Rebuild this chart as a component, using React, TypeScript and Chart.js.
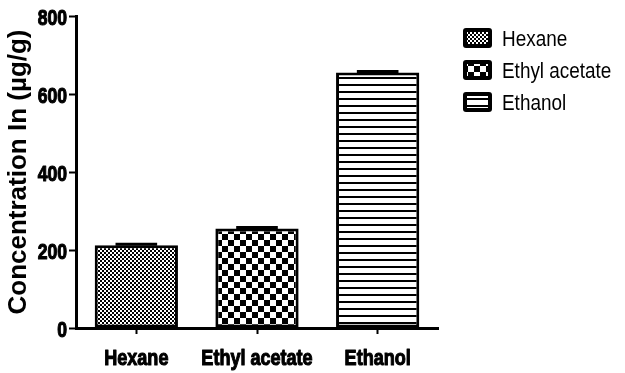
import React, { useEffect, useRef } from "react";
import { Chart, registerables } from "chart.js";

Chart.register(...registerables);

const categories = ["Hexane", "Ethyl acetate", "Ethanol"];
const concentrationValues = [212, 255, 655];
const errorValues = [3, 3, 3];
const yTicks = [0, 200, 400, 600, 800];

const SANS = "'Liberation Sans', Arial, sans-serif";

function makePattern(kind: string): CanvasPattern | string {
  const c = document.createElement("canvas");
  let ctx: CanvasRenderingContext2D | null;
  if (kind === "fine") {
    c.width = 4; c.height = 4;
    ctx = c.getContext("2d")!;
    ctx.fillStyle = "#fff"; ctx.fillRect(0, 0, 4, 4);
    ctx.fillStyle = "#000";
    ctx.fillRect(0, 0, 2, 2); ctx.fillRect(2, 2, 2, 2);
  } else if (kind === "checker") {
    c.width = 12; c.height = 12;
    ctx = c.getContext("2d")!;
    ctx.fillStyle = "#fff"; ctx.fillRect(0, 0, 12, 12);
    ctx.fillStyle = "#000";
    ctx.fillRect(0, 0, 6, 6); ctx.fillRect(6, 6, 6, 6);
  } else {
    c.width = 7; c.height = 7;
    ctx = c.getContext("2d")!;
    ctx.fillStyle = "#fff"; ctx.fillRect(0, 0, 7, 7);
    ctx.fillStyle = "#000";
    ctx.fillRect(0, 0, 7, 2);
  }
  const main = document.createElement("canvas").getContext("2d")!;
  return main.createPattern(c, "repeat") || "#888";
}

// draw text horizontally condensed (the reference uses a narrow face)
function narrowText(
  ctx: CanvasRenderingContext2D,
  text: string,
  x: number,
  y: number,
  sx: number,
  align: "left" | "center" | "right",
  heavy: number
) {
  ctx.save();
  ctx.translate(x, y);
  ctx.scale(sx, 1);
  ctx.textAlign = align;
  ctx.textBaseline = "alphabetic";
  ctx.fillText(text, 0, 0);
  if (heavy > 0) {
    ctx.lineWidth = heavy;
    ctx.strokeStyle = "#000";
    ctx.lineJoin = "round";
    ctx.strokeText(text, 0, 0);
  }
  ctx.restore();
}

export default function App() {
  const ref = useRef<HTMLCanvasElement>(null);
  useEffect(() => {
    if (!ref.current) return;
    const patterns = [makePattern("fine"), makePattern("checker"), makePattern("lines")];

    const errorBarPlugin = {
      id: "errorBars",
      afterDatasetsDraw(chart: any) {
        const ctx = chart.ctx;
        const meta = chart.getDatasetMeta(0);
        const y = chart.scales.y;
        ctx.save();
        ctx.strokeStyle = "#000";
        ctx.lineWidth = 3;
        meta.data.forEach((bar: any, i: number) => {
          const top = y.getPixelForValue(concentrationValues[i] + errorValues[i]);
          const base = y.getPixelForValue(concentrationValues[i]);
          const half = bar.width / 4;
          ctx.beginPath();
          ctx.moveTo(bar.x, base);
          ctx.lineTo(bar.x, top);
          ctx.moveTo(bar.x - half, top);
          ctx.lineTo(bar.x + half, top);
          ctx.stroke();
        });
        ctx.restore();
      },
    };

    const tickLabelPlugin = {
      id: "narrowTickLabels",
      afterDraw(chart: any) {
        const ctx = chart.ctx as CanvasRenderingContext2D;
        const xs = chart.scales.x;
        const ys = chart.scales.y;
        ctx.save();
        ctx.fillStyle = "#000";
        ctx.font = `bold 22px ${SANS}`;
        xs.ticks.forEach((t: any, i: number) => {
          narrowText(ctx, categories[t.value] ?? categories[i], xs.getPixelForTick(i), 365, 0.82, "center", 1.1);
        });
        ys.ticks.forEach((t: any, i: number) => {
          narrowText(ctx, String(t.value), 67, ys.getPixelForTick(i) + 9, 0.8, "right", 1.1);
        });
        ctx.restore();
      },
    };

    const legendPlugin = {
      id: "customLegend",
      afterDraw(chart: any) {
        const ctx = chart.ctx;
        ctx.save();
        categories.forEach((label, i) => {
          const cy = 38 + i * 32;
          const bx = 463, bw = 29, bh = 20;
          ctx.fillStyle = "#000";
          ctx.beginPath();
          (ctx as any).roundRect(bx, cy - bh / 2, bw, bh, 3);
          ctx.fill();
          ctx.fillStyle = patterns[i];
          ctx.fillRect(bx + 4, cy - bh / 2 + 4, bw - 8, bh - 8);
          ctx.fillStyle = "#000";
          ctx.font = `22px ${SANS}`;
          narrowText(ctx, label, 502, cy + 8, 0.86, "left", 0);
        });
        ctx.restore();
      },
    };

    const chart = new Chart(ref.current, {
      type: "bar",
      data: {
        labels: categories,
        datasets: [
          {
            label: "Concentration",
            data: concentrationValues,
            backgroundColor: patterns as any,
            borderColor: "#000",
            borderWidth: 3,
            borderSkipped: false,
            categoryPercentage: 1,
            barPercentage: 0.69,
          },
        ],
      },
      options: {
        responsive: false,
        animation: false,
        layout: { padding: { top: 16, right: 187, left: 0, bottom: 0 } },
        plugins: { legend: { display: false }, tooltip: { enabled: false } },
        scales: {
          x: {
            offset: true,
            grid: {
              offset: false,
              drawOnChartArea: false,
              drawTicks: true,
              tickLength: 6,
              tickWidth: 2,
              tickColor: "#000",
            },
            border: { display: true, color: "#000", width: 3 },
            ticks: { display: false, autoSkip: false },
            afterFit: (s: any) => { s.height = 45; },
          },
          y: {
            min: 0,
            max: 800,
            afterBuildTicks: (s: any) => { s.ticks = yTicks.map((v) => ({ value: v })); },
            grid: {
              drawOnChartArea: false,
              drawTicks: true,
              tickLength: 7,
              tickWidth: 2,
              tickColor: "#000",
            },
            border: { display: true, color: "#000", width: 3 },
            ticks: { display: false },
            title: {
              display: true,
              text: "Concentration In (µg/g)",
              color: "#000",
              font: { family: SANS, size: 26, weight: "bold" },
              padding: { top: 3, bottom: 0 },
            },
            afterFit: (s: any) => { s.width = 76; },
          },
        },
      },
      plugins: [errorBarPlugin, tickLabelPlugin, legendPlugin],
    });
    return () => chart.destroy();
  }, []);

  return (
    <div style={{ position: "absolute", left: 0, top: 0, width: 625, height: 373, background: "#fff" }}>
      <canvas ref={ref} width={625} height={373} style={{ display: "block" }} />
    </div>
  );
}
